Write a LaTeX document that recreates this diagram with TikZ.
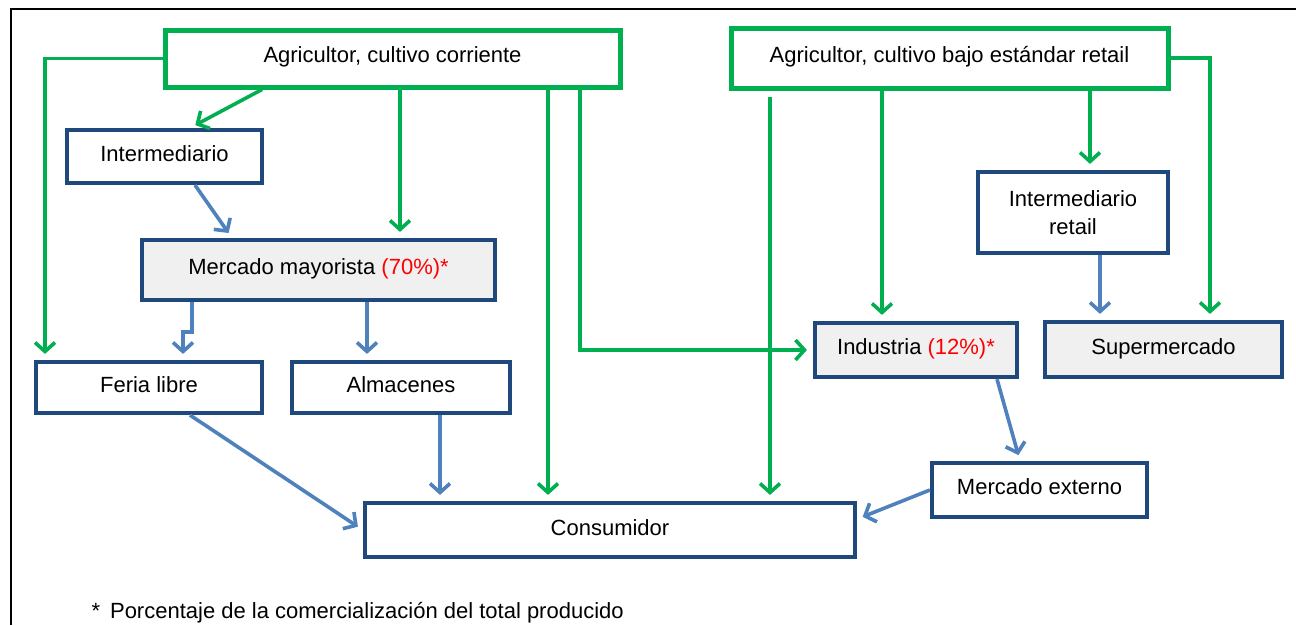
\documentclass[tikz,border=0pt]{standalone}
\usepackage{fontspec}
\setmainfont{Liberation Sans}
\usetikzlibrary{arrows.meta}
\definecolor{gr}{HTML}{00B050}
\definecolor{bl}{HTML}{4F81BD}
\definecolor{db}{HTML}{1F497D}
\definecolor{fillg}{HTML}{F0F0F0}
\begin{document}
\begin{tikzpicture}[x=1pt,y=-1pt,
  font=\fontsize{22}{26}\selectfont,
  gbox/.style={draw=gr,line width=5pt,fill=white,inner sep=2pt,align=center,text height=16pt,text depth=8pt},
  bbox/.style={draw=db,line width=4.2pt,fill=white,inner sep=2pt,align=center,text height=16pt,text depth=6.5pt},
  bfill/.style={bbox,fill=fillg},
  garr/.style={draw=gr,line width=3.6pt,-{Straight Barb[length=9pt,width=20pt]},shorten >=6pt},
  barr/.style={draw=bl,line width=3.6pt,-{Straight Barb[length=9pt,width=20pt]},shorten >=6pt}]
\useasboundingbox (0,0) rectangle (1296,625);
\fill[white] (0,0) rectangle (1296,625);
\draw[line width=2.2pt] (11,625) -- (11,9) -- (1296,9);

\node[gbox,minimum width=455pt,minimum height=57pt] (agr1) at (392.5,58.5) {Agricultor, cultivo corriente};
\node[gbox,minimum width=437pt,minimum height=60pt] (agr2) at (949.5,58) {Agricultor, cultivo bajo estándar retail};
\node[bbox,minimum width=195pt,minimum height=53pt] (inter) at (164.5,156.5) {Intermediario};
\node[bfill,minimum width=353pt,minimum height=60pt,text depth=8pt] (merc) at (318.5,270) {Mercado mayorista \textcolor{red}{(70\%)*}};
\node[bbox,minimum width=226pt,minimum height=51pt] (feria) at (149,387.5) {Feria libre};
\node[bbox,minimum width=218pt,minimum height=51pt] (alm) at (401,387.5) {Almacenes};
\node[bbox,minimum width=490pt,minimum height=54pt,text depth=5pt] (cons) at (610,530) {Consumidor};
\node[draw=db,line width=4.2pt,fill=white,inner sep=2pt,align=center,minimum width=190pt,minimum height=81pt,text width=180pt] (interr) at (1073,212.5) {Intermediario\\[2pt]retail};
\node[bfill,minimum width=202pt,minimum height=54pt] (ind) at (916,350) {Industria \textcolor{red}{(12\%)*}};
\node[bfill,minimum width=237pt,minimum height=55pt] (super) at (1163.5,349.5) {Supermercado};
\node[bbox,minimum width=215pt,minimum height=54pt] (mext) at (1039.5,490) {Mercado externo};

\node[anchor=base west] (note) at (88,618) {*\hspace{10pt}Porcentaje de la comercialización del total producido};

% green connectors
\draw[garr] (agr1.west) -| (feria.north -| 45,0);
\draw[garr] (agr1.south -| 262,0) -- (inter.north -| 190,0);
\draw[garr] (agr1.south -| 400,0) -- (merc.north -| 400,0);
\draw[garr] (agr1.south -| 548,0) -- (cons.north -| 548,0);
\draw[garr] (agr1.south -| 580,0) |- (ind.west);
\draw[garr,shorten <=6pt] (agr2.south -| 770,0) -- (cons.north -| 770,0);
\draw[garr] (agr2.south -| 882,0) -- (ind.north -| 882,0);
\draw[garr] (agr2.south -| 1090,0) -- (interr.north -| 1090,0);
\draw[garr] (agr2.east) -| (super.north -| 1210,0);

% blue connectors
\draw[barr] (inter.south -| 195,0) -- (merc.north -| 232,0);
\draw[barr] (merc.south -| 192,0) -- ++(0,30) -| (feria.north -| 183,0);
\draw[barr] (merc.south -| 367,0) -- (alm.north -| 367,0);
\draw[barr] (feria.south -| 190,0) -- (cons.west);
\draw[barr] (alm.south -| 440,0) -- (cons.north -| 440,0);
\draw[barr] (interr.south -| 1100,0) -- (super.north -| 1100,0);
\draw[barr] (ind.south -| 997,0) -- (mext.north -| 1020,0);
\draw[barr] (mext.west) -- (cons.east |- 0,519);
\end{tikzpicture}
\end{document}
